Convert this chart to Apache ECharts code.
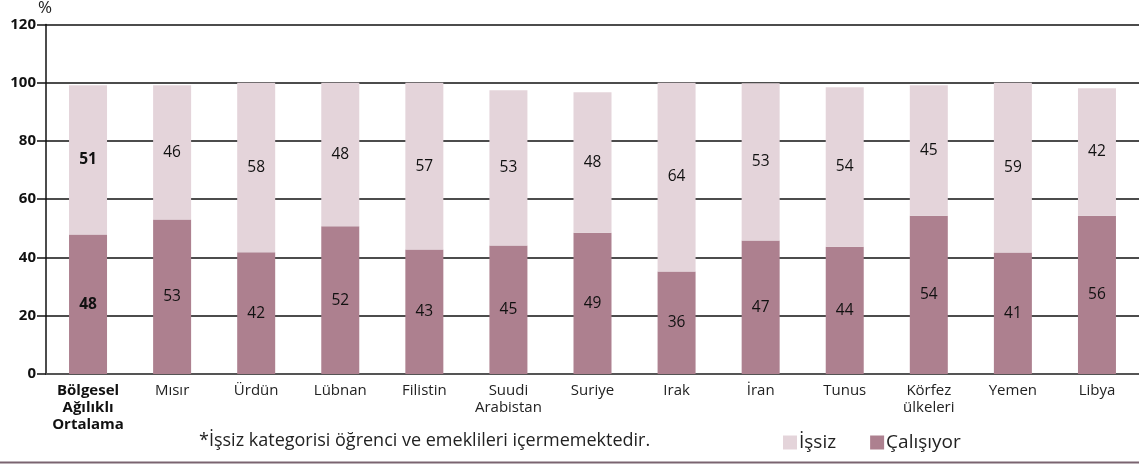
<!DOCTYPE html>
<html lang="tr">
<head>
    <meta charset="UTF-8">
    <title>Çalışıyor / İşsiz</title>
    <script src="https://cdn.jsdelivr.net/npm/echarts@6/dist/echarts.min.js"></script>
    <style>
        body { margin: 0; background: #fff; }
        #chart { width: 1139px; height: 464px; }
    </style>
</head>
<body>
    <div id="chart"></div>
    <script>
        // Veriler
        const categories = ['Bölgesel\nAğılıklı\nOrtalama', 'Mısır', 'Ürdün', 'Lübnan', 'Filistin', 'Suudi\nArabistan',
            'Suriye', 'Irak', 'İran', 'Tunus', 'Körfez\nülkeleri', 'Yemen', 'Libya'];
        const calisiyor = [47.9, 53.0, 41.8, 50.7, 42.7, 44.1, 48.5, 35.2, 45.8, 43.7, 54.3, 41.7, 54.3];
        const issiz = [51.2, 46.1, 58.2, 49.3, 57.3, 53.3, 48.2, 64.8, 54.0, 54.7, 44.8, 58.3, 43.8];
        const calisiyorLabels = [48, 53, 42, 52, 43, 45, 49, 36, 47, 44, 54, 41, 56];
        const issizLabels = [51, 46, 58, 48, 57, 53, 48, 64, 53, 54, 45, 59, 42];
        const yTicks = [0, 20, 40, 60, 80, 100, 120];

        const font = '"Open Sans", "Noto Sans", sans-serif';
        const darkColor = '#ad808f';
        const lightColor = '#e4d4da';

        function buildData(values, labels) {
            return values.map((v, i) => ({
                value: v,
                label: { formatter: String(labels[i]), fontWeight: i === 0 ? 'bold' : 'normal' }
            }));
        }

        const chart = echarts.init(document.getElementById('chart'));
        chart.setOption({
            animation: false,
            textStyle: { fontFamily: font },
            grid: { left: 46, top: 23, width: 1100, bottom: 90, containLabel: false },
            title: {
                text: '*İşsiz kategorisi öğrenci ve emeklileri içermemektedir.',
                left: 194, top: 427,
                textStyle: { fontFamily: font, fontSize: 18, fontWeight: 'normal', color: '#222' }
            },
            legend: {
                left: 778, top: 428,
                icon: 'rect', itemWidth: 14, itemHeight: 14, itemGap: 34,
                textStyle: { fontFamily: font, fontSize: 19, color: '#222', padding: [0, 0, 0, -3] },
                data: ['İşsiz', 'Çalışıyor']
            },
            xAxis: {
                type: 'category',
                data: categories,
                axisLine: { lineStyle: { color: '#555', width: 2 } },
                axisTick: { show: false },
                axisLabel: {
                    interval: 0, margin: 8, fontSize: 15, lineHeight: 17, color: '#222',
                    formatter: (v, i) => i === 0 ? '{b|' + v.split('\n').join('}\n{b|') + '}' : v,
                    rich: { b: { fontWeight: 'bold', fontSize: 15, lineHeight: 17, color: '#111' } }
                }
            },
            yAxis: {
                type: 'value',
                min: yTicks[0], max: yTicks[yTicks.length - 1], interval: 20,
                name: '%', nameGap: 4,
                nameTextStyle: { fontSize: 17, color: '#222', align: 'left', padding: [0, 0, 0, -8] },
                axisLine: { show: true, lineStyle: { color: '#111', width: 1.5 } },
                axisTick: { show: true, length: 9, lineStyle: { color: '#111', width: 1.5 } },
                axisLabel: { fontSize: 15, fontWeight: 'bold', color: '#111', margin: 10 },
                splitLine: { lineStyle: { color: '#111', width: 1.5 } }
            },
            series: [
                {
                    name: 'Çalışıyor', type: 'bar', stack: 'toplam', barWidth: 38,
                    itemStyle: { color: darkColor },
                    label: { show: true, position: 'inside', fontSize: 15.5, color: '#111' },
                    data: buildData(calisiyor, calisiyorLabels)
                },
                {
                    name: 'İşsiz', type: 'bar', stack: 'toplam', barWidth: 38,
                    itemStyle: { color: lightColor },
                    label: { show: true, position: 'inside', fontSize: 15.5, color: '#111' },
                    data: buildData(issiz, issizLabels)
                }
            ],
            graphic: [{
                type: 'line',
                shape: { x1: 0, y1: 462.5, x2: 1139, y2: 462.5 },
                style: { stroke: '#7a6470', lineWidth: 2 }
            }]
        });
    </script>
</body>
</html>
